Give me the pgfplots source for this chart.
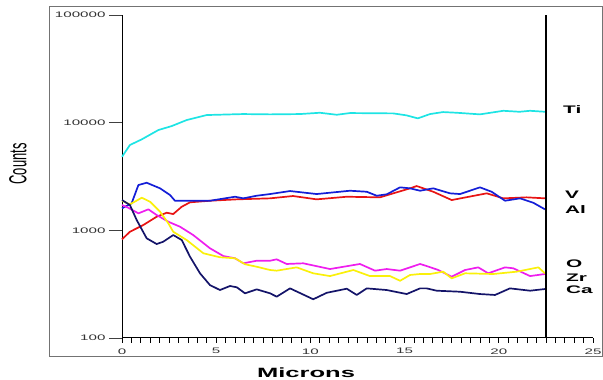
\documentclass[border=0pt]{standalone}
\usepackage{pgfplots}
\pgfplotsset{compat=1.18}
\usepackage{fontspec}
\setmainfont{Liberation Sans}[FakeStretch=1.9]
\newfontfamily\plainsans{Liberation Sans}
\definecolor{ticol}{RGB}{30,228,228}
\definecolor{vcol}{RGB}{20,30,215}
\definecolor{alcol}{RGB}{232,20,20}
\definecolor{cacol}{RGB}{20,20,105}
\definecolor{zrcol}{RGB}{250,240,10}
\definecolor{ocol}{RGB}{238,30,238}
\begin{document}
\begin{tikzpicture}
\path[use as bounding box] (0bp,0bp) rectangle (603bp,380bp);
\draw[black!55, line width=1bp] (49bp,373bp) rectangle (602bp,23bp);
\begin{axis}[
  at={(122bp,42bp)}, anchor=south west, scale only axis,
  width=471bp, height=323bp,
  xmin=0, xmax=25, ymin=100, ymax=100000, ymode=log,
  axis x line*=bottom, axis y line*=left,
  axis line style={black, line width=1bp},
  tick align=outside,
  xtick={0,5,10,15,20,25},
  minor xtick={0,0.5,...,25},
  xtick style={draw=none},
  minor x tick style={draw=black, line width=0.8bp},
  ytick={100,1000,10000,100000},
  yticklabels={100,1000,10000,100000},
  yminorticks=false,
  major tick length=13bp, minor tick length=5bp,
  ytick style={draw=black!75, line width=0.8bp},
  /pgf/number format/assume math mode=true,
  tick label style={font=\fontsize{8}{9}\selectfont, text=black!80},
  xticklabel style={yshift=6bp},
  clip=false,
  every axis plot/.append style={line width=1.7bp, line join=round},
]
\addplot[ticol] coordinates {(0,4820) (0.42,6200) (1.05,7000) (1.93,8540) (2.64,9300) (3.43,10570) (4.5,11770) (6.42,12020) (7.86,11940) (9.45,12020) (10.5,12360) (11.4,11840) (12.1,12280) (14.4,12190) (15.1,11690) (15.7,10960) (16.35,12020) (17.04,12540) (17.77,12360) (19.0,11940) (20.24,12890) (21.1,12620) (21.66,12890) (22.45,12620)};
\addplot[alcol] coordinates {(0,825) (0.42,970) (1.13,1120) (1.84,1338) (2.37,1457) (2.72,1417) (3.17,1656) (3.61,1820) (4.67,1883) (6.09,1940) (7.86,1982) (9.08,2083) (10.33,1940) (11.93,2051) (13.69,2025) (15.29,2455) (15.64,2578) (16.52,2282) (17.5,1911) (19.36,2206) (20.24,1982) (21.48,2025) (22.45,1982)};
\addplot[vcol] coordinates {(0,1601) (0.51,1781) (0.87,2634) (1.31,2767) (2.02,2455) (2.55,2127) (2.81,1883) (3.61,1883) (4.67,1883) (6.0,2051) (6.44,1982) (7.15,2096) (7.86,2173) (8.92,2317) (10.33,2173) (12.1,2332) (12.99,2282) (13.52,2096) (14.05,2160) (14.76,2507) (15.29,2455) (15.82,2332) (16.52,2455) (17.41,2206) (17.94,2173) (19.0,2507) (19.62,2282) (20.33,1883) (21.13,1982) (21.83,1804) (22.45,1567)};
\addplot[ocol] coordinates {(0,1718) (0.33,1622) (0.87,1438) (1.4,1567) (1.84,1387) (2.46,1202) (3.08,1080) (3.78,904) (4.67,681) (5.38,577) (6.0,550) (6.44,494) (7.15,522) (7.86,522) (8.21,538) (8.74,487) (9.62,494) (11.04,437) (12.63,487) (13.43,422) (14.05,437) (14.76,422) (15.29,453) (15.82,487) (16.17,466) (16.79,428) (17.5,371) (18.21,428) (18.91,453) (19.44,399) (20.33,453) (20.77,444) (21.66,376) (22.45,393)};
\addplot[zrcol] coordinates {(0,1883) (0.42,1743) (1.05,2008) (1.49,1843) (2.02,1489) (2.46,1161) (2.72,970) (3.43,813) (4.32,612) (5.2,562) (6.0,550) (6.53,484) (7.15,459) (7.86,428) (8.21,422) (9.27,453) (10.15,399) (11.04,376) (12.28,428) (13.16,376) (14.23,376) (14.76,340) (15.29,385) (15.82,393) (16.35,393) (17.05,413) (17.5,358) (18.21,399) (19.71,393) (20.95,413) (22.1,453) (22.45,399)};
\addplot[cacol] coordinates {(0,1911) (0.42,1718) (0.78,1246) (1.31,843) (1.84,746) (2.19,784) (2.72,904) (3.17,813) (3.61,569) (4.14,399) (4.67,310) (5.2,279) (5.73,304) (6.09,296) (6.53,260) (7.15,283) (7.86,260) (8.21,242) (8.92,289) (10.15,229) (10.87,263) (11.93,287) (12.46,251) (12.99,289) (14.05,279) (15.11,256) (15.82,289) (16.17,289) (16.7,275) (17.94,269) (19.0,256) (19.8,251) (20.59,289) (21.66,275) (22.45,285)};
\addplot[black, line width=2.6bp] coordinates {(22.5,100) (22.5,100000)};
\end{axis}
\begin{scope}[every node/.style={anchor=west, inner sep=0pt, font=\bfseries\fontsize{11}{12}\selectfont}]
\node at (563bp,270bp) {Ti};
\node at (565bp,185bp) {V};
\node at (565bp,170bp) {Al};
\node at (566bp,116bp) {O};
\node at (566bp,102bp) {Zr};
\node at (566bp,90bp) {Ca};
\end{scope}
\node[inner sep=0pt] at (18bp,216bp) {\scalebox{1.9}[1]{\rotatebox{90}{\plainsans\fontsize{13}{14}\selectfont Counts}}};
\node[inner sep=0pt] at (306bp,7bp) {\bfseries\fontsize{13.5}{15}\selectfont Microns};
\end{tikzpicture}
\end{document}
